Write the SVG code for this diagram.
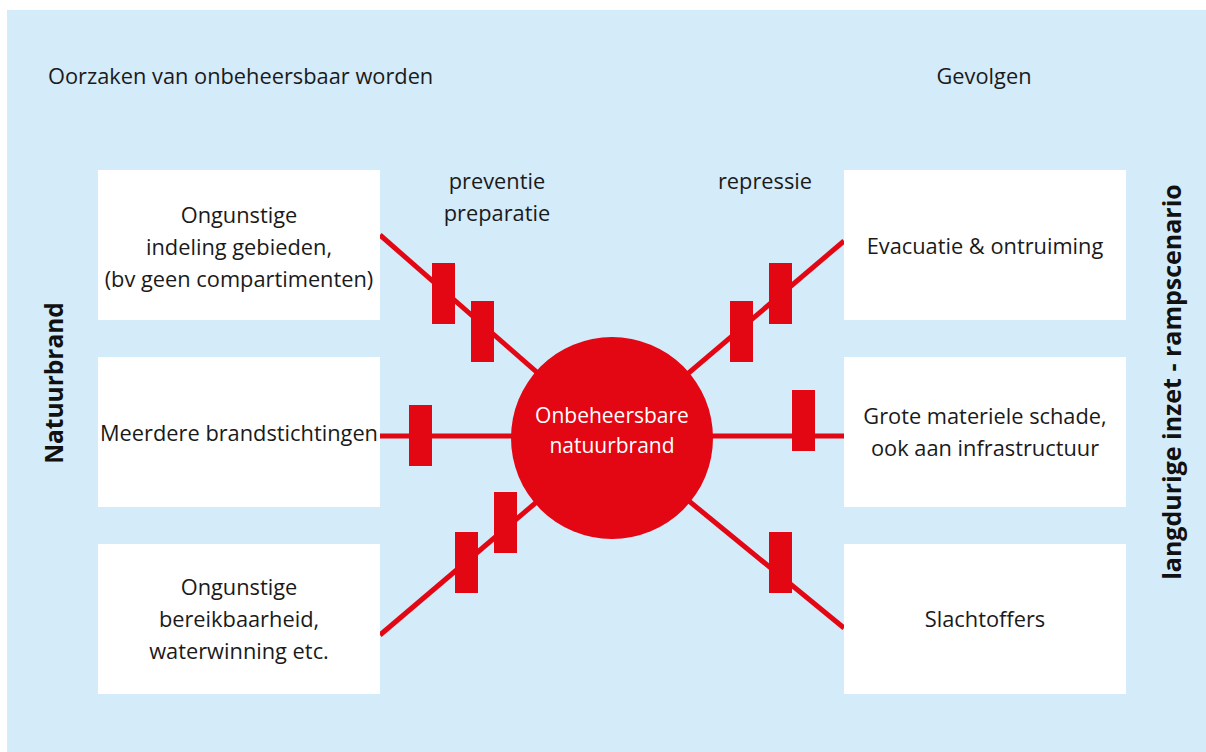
<svg xmlns="http://www.w3.org/2000/svg" width="1206" height="752" viewBox="0 0 1206 752">
<defs>
<style>
.t{font-family:"Open Sans","Noto Sans","Liberation Sans",sans-serif;font-size:21.8px;fill:#1a1a1a;text-anchor:middle}
.b{font-family:"Open Sans","Noto Sans","Liberation Sans",sans-serif;font-size:25px;font-weight:bold;fill:#111;text-anchor:middle}
.box{fill:#ffffff}
.ln{stroke:#e30613;stroke-width:5;fill:none}
.bar{fill:#e30613}
</style>
</defs>
<rect x="0" y="0" width="1206" height="752" fill="#ffffff"/>
<rect x="7" y="10" width="1199" height="742" fill="#d4ebfa"/>
<g id="headers">
<text class="t" x="48" y="84" style="text-anchor:start">Oorzaken van onbeheersbaar worden</text>
<text class="t" x="984" y="84">Gevolgen</text>
<text class="t" x="497" y="189">preventie</text>
<text class="t" x="497" y="221">preparatie</text>
<text class="t" x="765" y="189">repressie</text>
<text class="b" transform="translate(63,383) rotate(-90)" style="font-size:24.5px">Natuurbrand</text>
<text class="b" transform="translate(1181,382) rotate(-90)">langdurige inzet - rampscenario</text>
</g>
<g id="connectors">
<line class="ln" x1="380" y1="235" x2="612" y2="438"/>
<line class="ln" x1="844" y1="241" x2="612" y2="438"/>
<line class="ln" x1="380" y1="436" x2="844" y2="436"/>
<line class="ln" x1="380" y1="635" x2="612" y2="438"/>
<line class="ln" x1="844" y1="628" x2="612" y2="438"/>
<rect class="bar" x="432" y="263" width="23" height="61"/>
<rect class="bar" x="471" y="301" width="23" height="61"/>
<rect class="bar" x="730" y="301" width="23" height="61"/>
<rect class="bar" x="769" y="263" width="23" height="61"/>
<rect class="bar" x="409" y="405" width="23" height="61"/>
<rect class="bar" x="792" y="390" width="23" height="61"/>
<rect class="bar" x="455" y="532" width="23" height="61"/>
<rect class="bar" x="494" y="492" width="23" height="61"/>
<rect class="bar" x="769" y="532" width="23" height="61"/>
</g>
<g id="cause1">
<rect class="box" x="98" y="170" width="282" height="150"/>
<text class="t" x="239" y="223">Ongunstige</text>
<text class="t" x="239" y="255">indeling gebieden,</text>
<text class="t" x="239" y="287">(bv geen compartimenten)</text>
</g>
<g id="cause2">
<rect class="box" x="98" y="357" width="282" height="150"/>
<text class="t" x="239" y="441">Meerdere brandstichtingen</text>
</g>
<g id="cause3">
<rect class="box" x="98" y="544" width="282" height="150"/>
<text class="t" x="239" y="595">Ongunstige</text>
<text class="t" x="239" y="627">bereikbaarheid,</text>
<text class="t" x="239" y="659">waterwinning etc.</text>
</g>
<g id="effect1">
<rect class="box" x="844" y="170" width="282" height="150"/>
<text class="t" x="985" y="254">Evacuatie &amp; ontruiming</text>
</g>
<g id="effect2">
<rect class="box" x="844" y="357" width="282" height="150"/>
<text class="t" x="985" y="424">Grote materiele schade,</text>
<text class="t" x="985" y="456">ook aan infrastructuur</text>
</g>
<g id="effect3">
<rect class="box" x="844" y="544" width="282" height="150"/>
<text class="t" x="985" y="627">Slachtoffers</text>
</g>
<g id="center">
<circle cx="612" cy="438" r="101" fill="#e30613"/>
<text class="t" x="612" y="423" style="fill:#ffffff;font-size:21px">Onbeheersbare</text>
<text class="t" x="612" y="453" style="fill:#ffffff;font-size:21px">natuurbrand</text>
</g>
</svg>
